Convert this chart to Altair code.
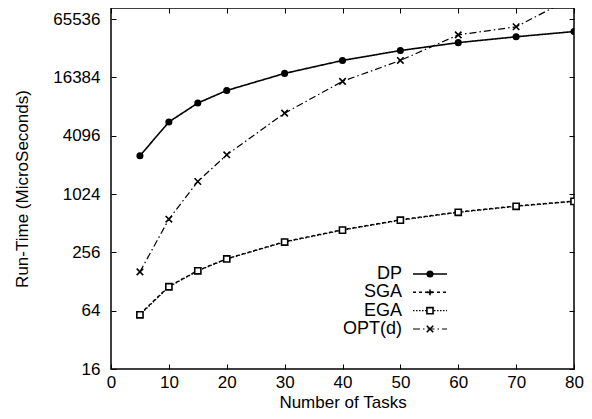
import altair as alt
import pandas as pd

tasks = [5, 10, 15, 20, 30, 40, 50, 60, 70, 80]
dp = [2540, 5680, 8900, 12000, 18000, 24500, 31000, 37400, 43000, 48700]
sga = [59, 114, 166, 220, 330, 438, 555, 668, 770, 865]
ega = [58, 113, 165, 219, 327, 434, 550, 663, 765, 860]
opt = [161, 563, 1380, 2600, 7000, 14900, 24500, 45000, 54500, 111000]

series_names = ["DP", "SGA", "EGA", "OPT(d)"]
x_ticks = [0, 10, 20, 30, 40, 50, 60, 70, 80]
y_ticks = [16, 64, 256, 1024, 4096, 16384, 65536]

rows = []
for name, vals in zip(series_names, [dp, sga, ega, opt]):
    for t, v in zip(tasks, vals):
        rows.append({"tasks": t, "runtime": v, "series": name})
df = pd.DataFrame(rows)
legend_df = pd.DataFrame({"series": series_names})

FONT = "Liberation Sans"
xscale = alt.Scale(domain=[0, 80], nice=False)
yscale = alt.Scale(type="log", base=2, domain=[16, 85200], nice=False)

dashes = [[1, 0], [3, 3], [1.5, 1.5], [7, 3, 1.5, 3]]
widths = [1.6, 1.2, 1.2, 1.1]
shapes = ["circle", "M-1,0L1,0M0,-1L0,1", "square", "M-1,-1L1,1M-1,1L1,-1"]
fills = ["black", "white", "white", "white"]
sizes = [30, 42, 40, 45]

dash_enc = alt.StrokeDash("series:N", scale=alt.Scale(domain=series_names, range=dashes), legend=None)
width_enc = alt.StrokeWidth("series:N", scale=alt.Scale(domain=series_names, range=widths), legend=None)
shape_enc = alt.Shape("series:N", scale=alt.Scale(domain=series_names, range=shapes), legend=None)
fill_enc = alt.Fill("series:N", scale=alt.Scale(domain=series_names, range=fills), legend=None)
size_enc = alt.Size("series:N", scale=alt.Scale(domain=series_names, range=sizes), legend=None)

common_axis = dict(tickSize=5, offset=-5, domain=False, grid=False, tickColor="black",
                   tickWidth=1, labelFont=FONT, titleFont=FONT, labelColor="black",
                   titleColor="black", labelFontSize=17, titleFontSize=17,
                   labelFontWeight="normal", titleFontWeight="normal",
                   labelFlush=False, labelOverlap=False)

x_bottom = alt.X("tasks:Q", scale=xscale,
                 axis=alt.Axis(orient="bottom", values=x_ticks, title="Number of Tasks",
                               labelPadding=5, titleY=43, titleBaseline="alphabetic",
                               format="d", **common_axis))
y_left = alt.Y("runtime:Q", scale=yscale,
               axis=alt.Axis(orient="left", values=y_ticks, title="Run-Time (MicroSeconds)",
                             labelPadding=11, titleX=-94, titleBaseline="middle",
                             format="d", **common_axis))

line = alt.Chart(df).mark_line(clip=True, color="black").encode(
    x=x_bottom, y=y_left, strokeDash=dash_enc, strokeWidth=width_enc,
)

pts = alt.Chart(df).mark_point(clip=True, stroke="black", strokeWidth=1.6, opacity=1).encode(
    x=alt.X("tasks:Q", scale=xscale, axis=None),
    y=alt.Y("runtime:Q", scale=yscale, axis=None),
    shape=shape_enc, fill=fill_enc, size=size_enc,
)

mirror = alt.Chart(df).mark_point(opacity=0, clip=True).encode(
    x=alt.X("tasks:Q", scale=xscale,
            axis=alt.Axis(orient="top", values=x_ticks, labels=False, title=None, **common_axis)),
    y=alt.Y("runtime:Q", scale=yscale,
            axis=alt.Axis(orient="right", values=y_ticks, labels=False, title=None, **common_axis)),
)

main = alt.layer(line, pts, mirror).resolve_axis(x="independent", y="independent")

# legend (gnuplot style: label right-aligned, then line sample with marker)
leg_y = alt.Y("series:N", scale=alt.Scale(type="point", domain=series_names, range=[266, 321], padding=0),
              axis=None)
leg_line = alt.Chart(legend_df).mark_rule(color="black").encode(
    x=alt.value(302), x2=alt.value(336), y=leg_y, strokeDash=dash_enc, strokeWidth=width_enc,
)
leg_pts = alt.Chart(legend_df).mark_point(stroke="black", strokeWidth=1.6, opacity=1).encode(
    x=alt.value(319), y=leg_y, shape=shape_enc, fill=fill_enc, size=size_enc,
)
leg_text = alt.Chart(legend_df).mark_text(align="right", baseline="middle", font=FONT, fontSize=18,
                                          color="black").encode(
    x=alt.value(291), y=leg_y, text="series:N",
)
legend = alt.layer(leg_line, leg_pts, leg_text)

chart = alt.layer(main, legend).resolve_scale(y="independent").properties(
    width=463, height=361,
    autosize=alt.AutoSizeParams(type="none"),
    padding={"left": 103, "top": 0, "right": 10, "bottom": 42},
    background="white",
).configure_view(stroke="black", strokeWidth=1.5)

chart.save("out.html", embed_options={"renderer": "svg", "actions": False})
